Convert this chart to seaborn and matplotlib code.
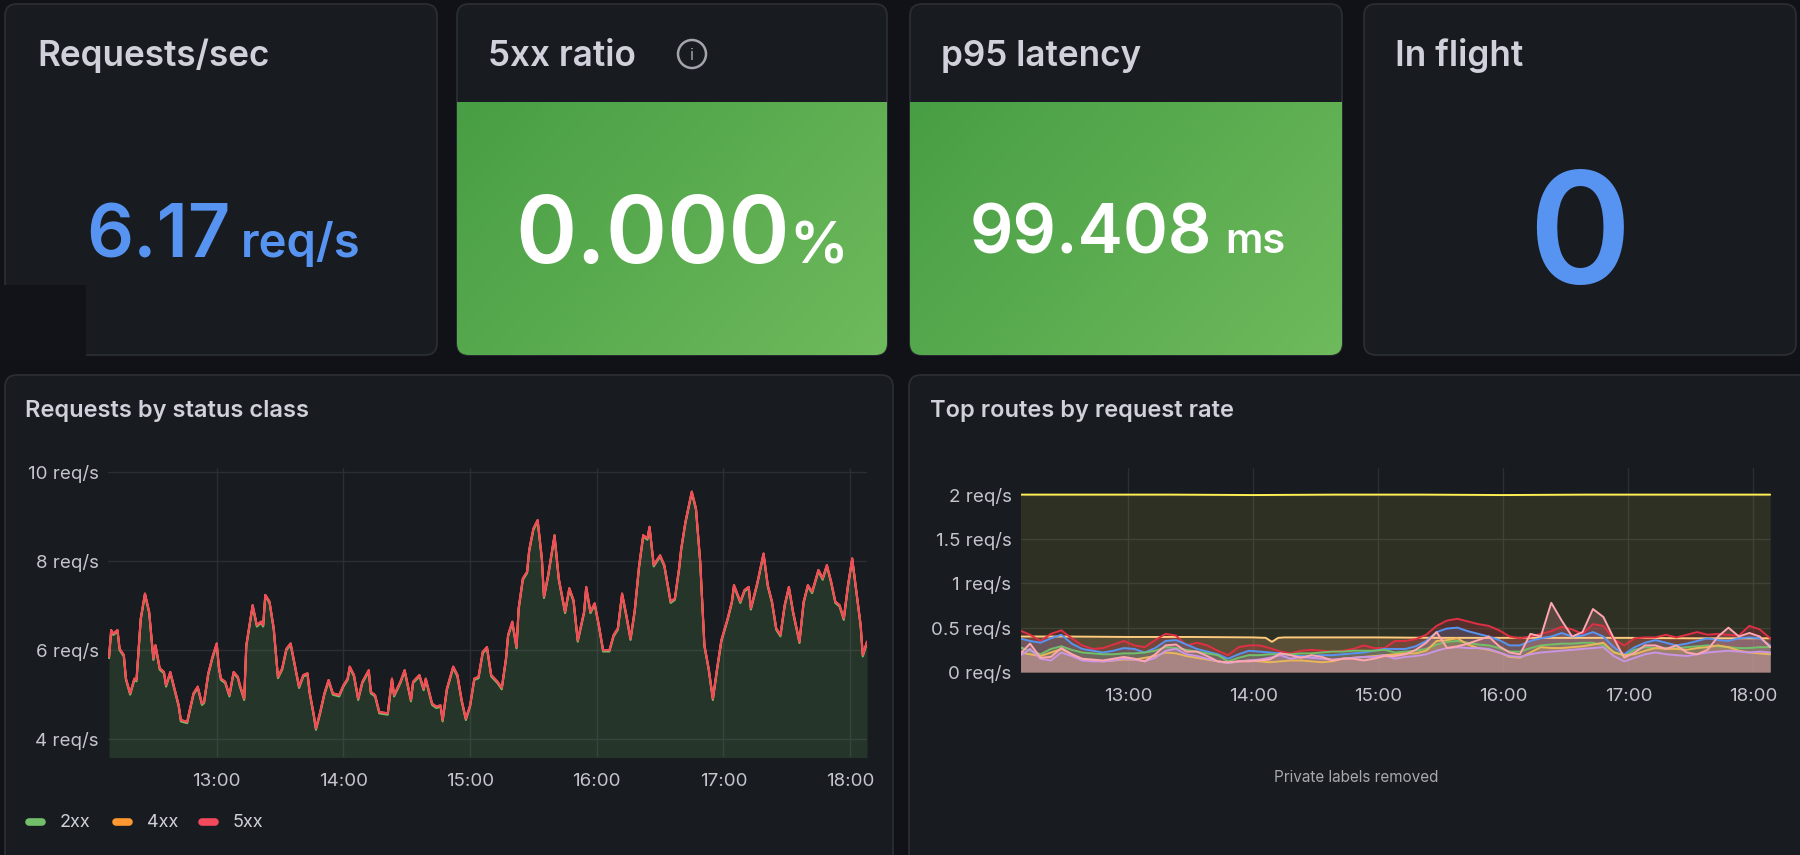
import numpy as np
import pandas as pd
import seaborn as sns
import matplotlib.pyplot as plt
import matplotlib.dates as mdates
from matplotlib.patches import FancyBboxPatch, Rectangle, Ellipse
from matplotlib.ticker import FuncFormatter

W, H = 1800, 855
BASE = pd.Timestamp("2024-05-14 12:00")

BG = "#111217"
PANEL = "#181b1f"
BORDER = "#2a2d33"
TXT = "#d0d1db"
TICK = "#c4c5cf"
GRID = "#2b2e34"
BLUE = "#5794F2"

# stat panels
REQ_PER_SEC = "6.17"
RATIO_5XX = "0.000"
P95_MS = "99.408"
IN_FLIGHT = "0"

# requests by status class (minutes after 12:00, req/s)
STATUS_MINUTES = [
    9, 10, 11, 13, 14, 16, 17, 19, 21, 22,
    24, 26, 28, 30, 31, 33, 35, 36, 38, 40,
    42, 43, 46, 47, 49, 51, 53, 54, 56, 58,
    60, 61, 62, 64, 66, 68, 70, 71, 73, 74,
    76, 77, 79, 81, 82, 83, 85, 87, 89, 91,
    93, 95, 97, 99, 101, 103, 104, 106, 107, 109,
    111, 113, 115, 118, 120, 122, 123, 125, 127, 129,
    132, 133, 135, 137, 141, 143, 144, 147, 149, 152,
    153, 156, 158, 159, 162, 164, 166, 167, 169, 172,
    174, 176, 178, 180, 182, 184, 186, 188, 190, 193,
    195, 197, 198, 200, 202, 203, 205, 207, 208, 210,
    212, 214, 215, 217, 220, 222, 225, 227, 229, 231,
    234, 235, 237, 239, 241, 243, 246, 248, 250, 252,
    254, 256, 258, 260, 262, 264, 265, 267, 270, 272,
    275, 277, 279, 280, 282, 283, 285, 287, 289, 291,
    293, 295, 297, 299, 302, 304, 305, 308, 310, 312,
    313, 316, 319, 321, 323, 325, 327, 329, 331, 333,
    336, 338, 340, 342, 345, 347, 349, 351, 353, 355,
    357, 359, 361, 363, 365, 366, 368]
RATE_2XX = [
    5.82, 6.42, 6.34, 6.42, 6.00, 5.86, 5.33, 5.00, 5.33, 5.30,
    6.68, 7.24, 6.83, 5.78, 6.08, 5.56, 5.48, 5.18, 5.48, 5.10,
    4.73, 4.40, 4.36, 4.58, 5.00, 5.15, 4.77, 4.81, 5.45, 5.82,
    6.12, 5.60, 5.33, 5.26, 4.96, 5.48, 5.37, 5.18, 4.88, 6.08,
    6.68, 6.98, 6.53, 6.61, 6.53, 7.21, 7.06, 6.46, 5.37, 5.56,
    6.00, 6.12, 5.63, 5.15, 5.41, 5.45, 5.03, 4.51, 4.21, 4.58,
    5.00, 5.30, 5.00, 4.96, 5.18, 5.33, 5.60, 5.41, 4.88, 5.26,
    5.52, 5.03, 4.96, 4.58, 4.55, 5.33, 4.96, 5.26, 5.52, 4.85,
    5.26, 5.41, 5.10, 5.33, 4.77, 4.70, 4.73, 4.40, 5.10, 5.60,
    5.41, 4.85, 4.43, 4.73, 5.33, 5.37, 5.93, 6.04, 5.41, 5.26,
    5.12, 5.78, 6.31, 6.61, 6.04, 6.91, 7.58, 7.73, 8.22, 8.70,
    8.89, 8.03, 7.17, 7.66, 8.55, 7.58, 6.83, 7.36, 7.09, 6.19,
    6.83, 7.39, 6.83, 7.02, 6.53, 5.97, 5.97, 6.31, 6.46, 7.24,
    6.76, 6.23, 6.87, 7.84, 8.55, 8.48, 8.74, 7.88, 8.10, 7.88,
    7.06, 7.13, 7.81, 8.25, 8.85, 9.08, 9.53, 9.15, 7.96, 6.08,
    5.56, 4.88, 5.56, 6.19, 6.68, 7.06, 7.43, 7.06, 7.32, 7.39,
    6.91, 7.47, 8.14, 7.43, 7.06, 6.46, 6.31, 6.98, 7.39, 6.83,
    6.16, 7.06, 7.43, 7.28, 7.77, 7.58, 7.88, 7.51, 7.06, 6.98,
    6.68, 7.43, 8.03, 7.28, 6.53, 5.86, 6.16]
RATE_4XX = 0.03
RATE_5XX = 0.0
STATUS_CLASSES = ["2xx", "4xx", "5xx"]
STATUS_COLORS = ["#73BF69", "#FF9830", "#F2495C"]

# top routes, sampled every 5 minutes from 12:08
ROUTE_MINUTES = list(range(8, 369, 5))
ROUTE_RED = [.47, .42, .35, .43, .47, .38, .30, .26, .27, .31, .35, .30, .28, .36, .43, .41, .30, .33,
             .30, .24, .19, .28, .30, .30, .27, .23, .21, .24, .25, .24, .23, .24, .26, .30, .27, .27,
             .35, .35, .37, .42, .52, .58, .60, .57, .54, .52, .47, .40, .38, .40, .43, .46, .51, .48,
             .43, .54, .52, .37, .30, .38, .39, .39, .42, .39, .42, .45, .42, .43, .42, .41, .52, .48, .38]
ROUTE_BLUE = [.38, .35, .33, .38, .42, .32, .26, .24, .22, .24, .27, .26, .22, .27, .35, .36, .31, .26,
              .23, .20, .15, .20, .24, .23, .22, .21, .19, .18, .18, .19, .19, .20, .21, .22, .24, .26,
              .26, .26, .29, .35, .45, .49, .50, .46, .43, .40, .36, .30, .30, .35, .38, .40, .44, .40,
              .41, .45, .40, .28, .20, .28, .33, .36, .33, .30, .32, .35, .38, .36, .35, .38, .39, .38, .30]
ROUTE_GREEN = [.28, .24, .20, .26, .29, .25, .22, .21, .20, .20, .21, .21, .22, .24, .28, .27, .25, .23,
               .21, .19, .12, .16, .19, .19, .20, .20, .20, .21, .21, .22, .23, .23, .24, .24, .24, .25,
               .22, .23, .24, .26, .31, .34, .35, .33, .31, .30, .27, .23, .23, .27, .30, .31, .32, .32,
               .33, .33, .30, .23, .18, .25, .28, .27, .27, .27, .28, .29, .30, .29, .28, .27, .27, .28, .28]
ROUTE_PINK = [.20, .32, .16, .17, .27, .20, .15, .14, .13, .15, .17, .15, .12, .20, .30, .31, .23, .23,
              .18, .12, .11, .12, .12, .13, .14, .21, .19, .16, .19, .17, .13, .15, .15, .13, .15, .18,
              .18, .20, .25, .33, .45, .27, .29, .32, .36, .40, .29, .22, .20, .43, .40, .78, .58, .40,
              .45, .71, .62, .38, .16, .22, .30, .30, .26, .30, .22, .20, .25, .40, .50, .40, .44, .40, .28]
ROUTE_ORANGE = [.22, .20, .18, .22, .26, .20, .14, .13, .12, .13, .14, .14, .16, .18, .22, .21, .18, .16,
                .14, .12, .10, .12, .13, .12, .11, .12, .13, .13, .12, .11, .12, .15, .16, .17, .18, .19,
                .20, .21, .21, .24, .35, .36, .38, .31, .27, .25, .22, .17, .16, .22, .28, .27, .27, .28,
                .29, .31, .33, .22, .19, .20, .24, .27, .26, .26, .25, .27, .28, .30, .28, .24, .22, .21, .20]
ROUTE_LAVENDER = [.18, .26, .15, .13, .22, .18, .13, .12, .12, .13, .15, .14, .12, .16, .24, .26, .20, .18,
                  .15, .12, .10, .12, .13, .14, .16, .19, .15, .17, .16, .15, .14, .15, .16, .17, .17, .19,
                  .15, .17, .18, .20, .24, .27, .28, .27, .27, .26, .22, .18, .17, .20, .22, .23, .24, .25,
                  .26, .27, .28, .18, .12, .16, .20, .22, .20, .19, .18, .20, .22, .23, .24, .23, .22, .23, .22]

# the two steady routes
TOP_MINUTES = [8, 40, 80, 120, 160, 200, 240, 280, 320, 368]
TOP_RATE = [2.0, 2.0, 2.0, 1.995, 2.0, 2.0, 1.995, 2.0, 2.0, 2.0]
STEADY_MINUTES = [8, 30, 60, 90, 120, 126, 129, 132, 135, 150, 180, 210, 240, 270, 300, 330, 368]
STEADY_RATE = [0.40, 0.40, 0.395, 0.395, 0.39, 0.385, 0.34, 0.385, 0.39, 0.39, 0.39,
               0.385, 0.385, 0.385, 0.385, 0.38, 0.38]


def to_time(minutes):
    return BASE + pd.to_timedelta(minutes, unit="m")


def panel(x0, y0, x1, y1):
    p = FancyBboxPatch((x0, y0), x1 - x0, y1 - y0,
                       boxstyle="round,pad=0,rounding_size=12",
                       fc=PANEL, ec=BORDER, lw=1.3, zorder=1)
    canvas.add_patch(p)
    return p


def green_fill(p, x0, x1, y0, y1):
    yy, xx = np.mgrid[0:1:60j, 0:1:120j]
    t = (0.65 * xx + 0.35 * yy)[..., None]
    dark = np.array([72, 158, 68]) / 255
    light = np.array([110, 186, 92]) / 255
    rgb = dark * (1 - t) + light * t
    im = canvas.imshow(rgb, extent=(x0, x1, y1, y0), origin="upper",
                       aspect="auto", interpolation="bilinear", zorder=1.5)
    im.set_clip_path(p)


def stat_value(x, y, value, unit, size, unit_size, color, gap):
    t = canvas.text(x, y, value, fontsize=size, color=color, va="baseline",
                    fontweight="semibold", zorder=3)
    right = t.get_window_extent(renderer).x1
    canvas.text(right + gap, y, unit, fontsize=unit_size, color=color,
                va="baseline", fontweight="semibold", zorder=3)


def style_chart(ax, ylim, yticks):
    ax.set_facecolor("none")
    for s in ax.spines.values():
        s.set_visible(False)
    ax.grid(True, color=GRID, lw=1)
    ax.set_axisbelow(True)
    ax.set_ylim(*ylim)
    ax.set_yticks(yticks)
    ax.yaxis.set_major_formatter(FuncFormatter(lambda v, _: f"{v:g} req/s"))
    ax.xaxis.set_major_locator(mdates.HourLocator())
    ax.xaxis.set_major_formatter(mdates.DateFormatter("%H:%M"))
    ax.tick_params(axis="both", length=0, labelsize=13.5, labelcolor=TICK)
    ax.tick_params(axis="x", pad=11.5)
    ax.tick_params(axis="y", pad=6.5)
    ax.set_xlabel("")
    ax.set_ylabel("")


sns.set_theme(style="dark", rc={"figure.facecolor": BG, "axes.facecolor": "none",
                                "text.color": TXT, "xtick.color": TICK, "ytick.color": TICK})
plt.rcParams["font.family"] = ["Inter", "DejaVu Sans"]

fig = plt.figure(figsize=(W / 100, H / 100), dpi=100, facecolor=BG)
canvas = fig.add_axes([0, 0, 1, 1])
canvas.set_facecolor(BG)
canvas.axis("off")
canvas.set_xlim(0, W)
canvas.set_ylim(H, 0)
renderer = fig.canvas.get_renderer()

# stat panels
panel(5, 4, 437, 355)
canvas.add_patch(Rectangle((0, 285), 86, 75, fc="#121318", ec="none", zorder=2))
p2 = panel(457, 4, 887, 355)
green_fill(p2, 457, 887, 103, 356)
p3 = panel(910, 4, 1342, 355)
green_fill(p3, 910, 1342, 103, 356)
panel(1364, 4, 1796, 355)

title_kw = dict(fontsize=25.3, color=TXT, fontweight="semibold", va="baseline", zorder=3)
canvas.text(37, 66, "Requests/sec", **title_kw)
canvas.text(488, 66, "5xx ratio", **title_kw)
canvas.text(941, 66, "p95 latency", **title_kw)
canvas.text(1395, 66, "In flight", **title_kw)
canvas.add_patch(Ellipse((692, 54), 28, 28, fc="none", ec="#a3a4ad", lw=1.8, zorder=3))
canvas.text(692, 55, "i", fontsize=12, color="#a3a4ad", ha="center", va="center", zorder=3)

canvas.set_xlim(0, W)
canvas.set_ylim(H, 0)
stat_value(86, 257, REQ_PER_SEC, "req/s", 53, 34, BLUE, 10)
stat_value(515, 263, RATIO_5XX, "%", 67, 42, "white", 0)
stat_value(970, 253, P95_MS, "ms", 49, 30, "white", 13)
canvas.text(1580, 283, IN_FLIGHT, fontsize=112, color=BLUE, ha="center",
            va="baseline", fontweight="semibold", zorder=3)

# chart panels
panel(5, 375, 893, 880)
panel(909, 375, 1815, 880)
canvas.text(25, 417, "Requests by status class", fontsize=17, color=TXT,
            fontweight="semibold", va="baseline", zorder=3)
canvas.text(930, 417, "Top routes by request rate", fontsize=17, color=TXT,
            fontweight="semibold", va="baseline", zorder=3)
canvas.text(1356, 777, "Private labels removed", fontsize=11, color="#a7a8b0",
            ha="center", va="center", zorder=3)

for x0, label, color in zip([25, 112, 198], STATUS_CLASSES, STATUS_COLORS):
    canvas.plot([x0 + 4, x0 + 17], [822, 822], color=color, lw=5.5,
                solid_capstyle="round", zorder=3)
    canvas.text(x0 + 35, 822, label, fontsize=13, color=TXT, va="center", zorder=3)

canvas.set_xlim(0, W)
canvas.set_ylim(H, 0)

# requests by status class
ax1 = fig.add_axes([108 / W, 1 - 757 / H, (867 - 108) / W, (757 - 468) / H])
status = pd.DataFrame({"time": to_time(STATUS_MINUTES), "2xx": RATE_2XX})
status["4xx"] = status["2xx"] + RATE_4XX
status["5xx"] = status["4xx"] + RATE_5XX
status_long = status.melt(id_vars="time", var_name="class", value_name="rate")
ax1.fill_between(status["time"], 0, status["2xx"], color=STATUS_COLORS[0], alpha=0.16, lw=0)
sns.lineplot(data=status_long, x="time", y="rate", hue="class", hue_order=STATUS_CLASSES,
             palette=STATUS_COLORS, lw=1.5, ax=ax1, legend=False)
style_chart(ax1, (3.6, 10.09), [4, 6, 8, 10])
ax1.set_xlim(to_time(8.5), to_time(368))

# top routes by request rate
ax2 = fig.add_axes([1020.5 / W, 1 - 672 / H, (1771 - 1020.5) / W, (672 - 468) / H])
routes = {
    "route a": (TOP_MINUTES, TOP_RATE, "#FFEE52", 0.1),
    "route b": (STEADY_MINUTES, STEADY_RATE, "#FFCB7D", 0.2),
    "route c": (ROUTE_MINUTES, ROUTE_RED, "#E02F44", 0.2),
    "route d": (ROUTE_MINUTES, ROUTE_BLUE, "#5794F2", 0.2),
    "route e": (ROUTE_MINUTES, ROUTE_GREEN, "#73BF69", 0.2),
    "route f": (ROUTE_MINUTES, ROUTE_ORANGE, "#E8B75A", 0.2),
    "route g": (ROUTE_MINUTES, ROUTE_LAVENDER, "#CA95E5", 0.2),
    "route h": (ROUTE_MINUTES, ROUTE_PINK, "#FFA6B0", 0.2),
}
frames = []
for name, (mins, vals, color, alpha) in routes.items():
    df = pd.DataFrame({"time": to_time(mins), "rate": vals, "route": name})
    ax2.fill_between(df["time"], 0, df["rate"], color=color, alpha=alpha, lw=0)
    frames.append(df)
route_long = pd.concat(frames, ignore_index=True)
sns.lineplot(data=route_long, x="time", y="rate", hue="route", hue_order=list(routes),
             palette=[r[2] for r in routes.values()], lw=1.4, ax=ax2, legend=False)
style_chart(ax2, (0, 2.3), [0, 0.5, 1, 1.5, 2])
ax2.set_xlim(to_time(8.4), to_time(368.4))

fig.savefig("out.png", dpi=100, facecolor=BG)
